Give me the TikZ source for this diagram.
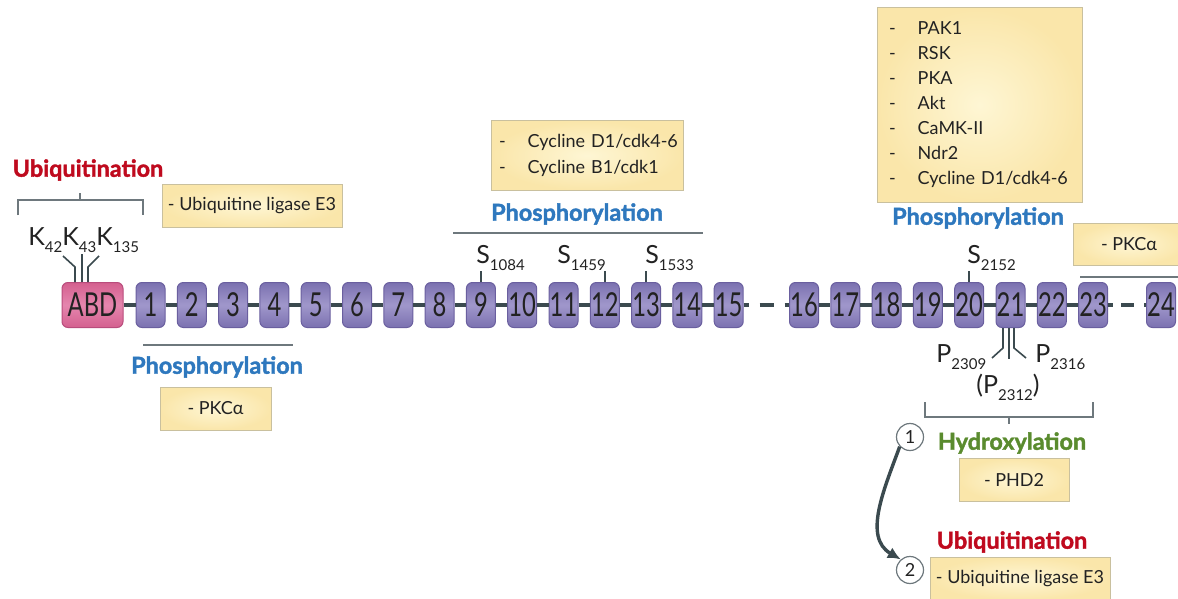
\documentclass[tikz,border=0pt]{standalone}
\usepackage{fontspec}
\setmainfont{Lato}
\newfontfamily\flmnarrow[FakeStretch=0.72]{Lato}
\newfontfamily\flmheavy[BoldFeatures={FakeBold=1.6}]{Lato}
\usetikzlibrary{arrows.meta}
\definecolor{flmPurple}{HTML}{7B71B0}
\definecolor{flmLilac}{HTML}{A097CB}
\definecolor{flmEdge}{HTML}{6A5F9F}
\definecolor{flmPink}{HTML}{D4608F}
\definecolor{flmRose}{HTML}{E586AE}
\definecolor{flmPinkEdge}{HTML}{B94C7C}
\definecolor{flmChain}{HTML}{3B4A4F}
\definecolor{flmCream}{HTML}{FEF6D4}
\definecolor{flmSand}{HTML}{FAE6AA}
\definecolor{flmSandEdge}{HTML}{C9C09E}
\definecolor{flmRed}{HTML}{BF0A1E}
\definecolor{flmBlue}{HTML}{2E78BE}
\definecolor{flmGreen}{HTML}{5A8B2E}
\definecolor{flmGray}{HTML}{6E787D}
\definecolor{flmInk}{HTML}{222222}
\newcommand\flmsub[1]{\raisebox{-3.5pt}{\fontsize{7.5}{7.5}\selectfont #1}}
\tikzset{
  flm repeat/.style={draw=flmEdge, line width=0.5pt, rounded corners=3pt,
    top color=flmPurple, bottom color=flmPurple, middle color=flmLilac,
    minimum width=14.5pt, minimum height=22.5pt, inner sep=0pt,
    font=\flmnarrow\fontsize{16.5}{16.5}\selectfont, text=flmInk},
  flm abd/.style={flm repeat, draw=flmPinkEdge, top color=flmPink,
    bottom color=flmPink, middle color=flmRose, minimum width=30.5pt},
  flm chain/.style={draw=flmChain, line width=2pt},
  flm gap/.style={flm chain, dash pattern=on 2.5pt off 5.5pt on 7pt off 5.5pt on 9pt},
  flm stub/.style={draw=flmChain, line width=0.8pt},
  flm bracket/.style={draw=flmGray, line width=0.7pt},
  flm enzyme/.style={draw=flmSandEdge, line width=0.5pt, inner color=flmCream,
    outer color=flmSand, minimum height=21.5pt, inner sep=0pt,
    font=\fontsize{9}{12.5}\selectfont, text=flmInk},
  flm list/.style={flm enzyme, align=left},
  flm site/.style={inner sep=0pt, font=\fontsize{12.5}{12.5}\selectfont, text=flmInk},
  flm heading/.style={font=\flmheavy\bfseries\fontsize{11.7}{12}\selectfont},
  flm marker/.style={circle, draw=flmGray, line width=0.6pt, minimum size=13.5pt,
    inner sep=0pt, font=\fontsize{9}{9}\selectfont, text=flmInk},
  flm flow/.style={draw=flmChain, line width=1.7pt, -{Latex[length=6.5pt,width=6pt]}},
}

\begin{document}
\begin{tikzpicture}[x=0.5pt,y=-0.5pt]
  \useasboundingbox (0,0) rectangle (1178,599);
  \fill[white] (0,0) rectangle (1178,599);
  \clip (0,0) rectangle (1178,599);

  \node[flm abd] (abd) at (92.5,305) {ABD};
  \foreach \i in {1,...,15}
    \node[flm repeat] (r\i) at ({150.5+41.3*(\i-1)},305) {\i};
  \foreach \i in {16,...,23}
    \node[flm repeat] (r\i) at ({804+41.3*(\i-16)},305) {\i};
  \node[flm repeat] (r24) at (1161,305) {24};

  \draw[flm chain] (abd) -- (r1);
  \foreach \i in {1,...,14} {
    \pgfmathtruncatemacro\j{\i+1}
    \draw[flm chain] (r\i) -- (r\j);
  }
  \foreach \i in {16,...,22} {
    \pgfmathtruncatemacro\j{\i+1}
    \draw[flm chain] (r\i) -- (r\j);
  }
  \draw[flm gap] (r15) -- (r16);
  \draw[flm gap, dash pattern=on 2.5pt off 4pt on 6.5pt off 5pt on 4pt] (r23) -- (r24);

  \node[flm heading, text=flmRed] (ubitop) at (88,170) {Ubiquitination};
  \draw[flm bracket] (18,215) -- (18,200) -- (143,200) -- (143,215);
  \draw[flm bracket] (80,200) -- (80,193);
  \node[flm enzyme, minimum width=90pt] (ligtop) at (252,205.5) {- Ubiquitine ligase E3};
  \node[flm site, anchor=base west] (ksites) at (28,245) {K\flmsub{42}K\flmsub{43}K\flmsub{135}};
  \draw[flm stub] ([xshift=-8.75pt]abd.north) -- ++(0,-15) -- ++(-12,-11);
  \draw[flm stub] ([xshift=-5.25pt]abd.north) -- ++(0,-28);
  \draw[flm stub] ([xshift=-2.25pt]abd.north) -- ++(0,-15) -- ++(11,-11);

  \draw[flm bracket] (143,345) -- (293,345);
  \node[flm heading, text=flmBlue] (phosleft) at (217,367) {Phosphorylation};
  \node[flm enzyme, minimum width=55.5pt] (pkcleft) at (215.5,408.5) {- PKCα};

  \node[flm list, minimum width=96pt, minimum height=34.5pt, text width=88pt] (cycmid) at (587,155.5)
    {\begin{tabular}{@{}l@{\hspace{11pt}}l@{}}- & Cycline D1/cdk4-6\\- & Cycline B1/cdk1\end{tabular}};
  \node[flm heading, text=flmBlue] (phosmid) at (577,214) {Phosphorylation};
  \draw[flm bracket] (453,233) -- (703,233);
  \node[flm site, anchor=base west] (s1084) at (476,263) {S\flmsub{1084}};
  \node[flm site, anchor=base west] (s1459) at (557,263) {S\flmsub{1459}};
  \node[flm site, anchor=base west] (s1533) at (645,263) {S\flmsub{1533}};

  \node[flm list, minimum width=102.5pt, minimum height=97pt, text width=90.5pt] (kinases) at (979.5,105)
    {\begin{tabular}{@{}l@{\hspace{11pt}}l@{}}- & PAK1\\- & RSK\\- & PKA\\- & Akt\\- & CaMK-II\\- & Ndr2\\- & Cycline D1/cdk4-6\end{tabular}};
  \node[flm heading, text=flmBlue] (phosright) at (978,218) {Phosphorylation};
  \node[flm site, anchor=base west] (s2152) at (967,263) {S\flmsub{2152}};
  \foreach \r/\s in {9/s1084,12/s1459,13/s1533,20/s2152}
    \draw[flm stub] (r\r.north) -- (r\r.north |- \s.south);

  \node[flm enzyme, minimum width=56pt, minimum height=21pt] (pkcright) at (1129,244) {- PKCα};
  \draw[flm bracket] (1080,277) -- (1178,277);

  \draw[flm stub] ([xshift=-3.75pt]r21.south) -- ++(0,20) -- ++(-11,10);
  \draw[flm stub] ([xshift=-0.75pt]r21.south) -- ++(0,31);
  \draw[flm stub] ([xshift=1.75pt]r21.south) -- ++(0,20) -- ++(12,10);
  \node[flm site, anchor=base west] (p2309) at (936,362) {P\flmsub{2309}};
  \node[flm site, anchor=base west] (p2316) at (1035,362) {P\flmsub{2316}};
  \node[flm site, anchor=base] (p2312) at (1008,393) {(P\flmsub{2312})};

  \draw[flm bracket] (925,402) -- (925,417) -- (1093,417) -- (1093,402);
  \draw[flm bracket] (1009,417) -- (1009,424);
  \node[flm marker] (c1) at (910,437) {1};
  \node[flm heading, text=flmGreen] (hydrox) at (1012,443) {Hydroxylation};
  \node[flm enzyme, minimum width=55pt] (phd) at (1014,479.5) {- PHD2};
  \node[flm heading, text=flmRed] (ubibot) at (1012,542) {Ubiquitination};
  \node[flm marker] (c2) at (910,570) {2};
  \node[flm enzyme, minimum width=90pt] (ligbot) at (1020,578.5) {- Ubiquitine ligase E3};
  \draw[flm flow] (c1.223) to[out=250,in=150] (c2.131);
\end{tikzpicture}
\end{document}
